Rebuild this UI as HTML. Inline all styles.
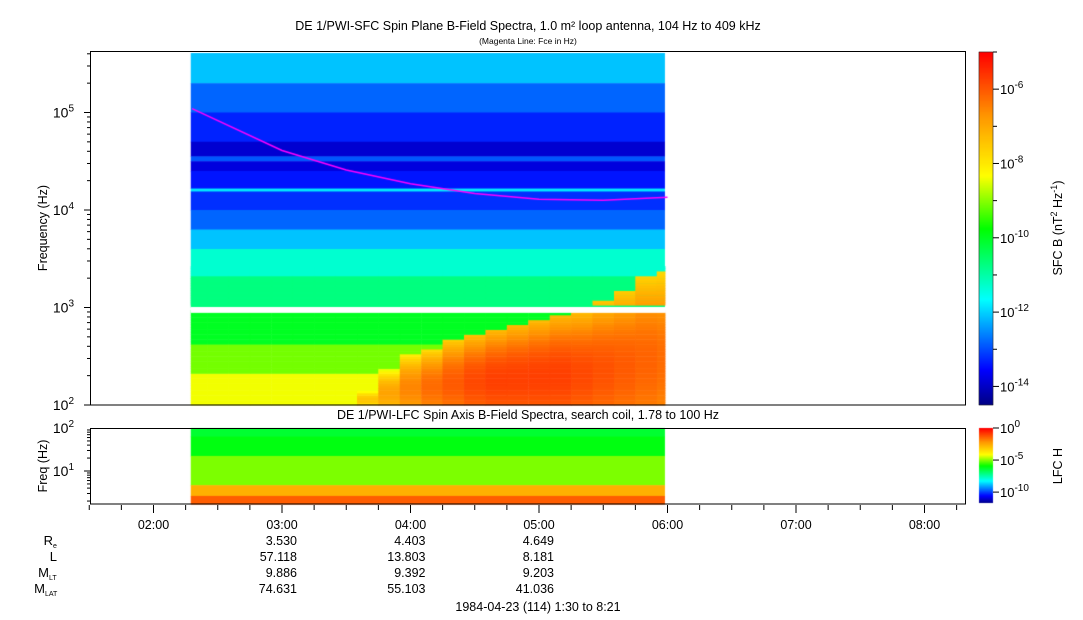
<!DOCTYPE html>
<html><head><meta charset="utf-8"><style>
body{margin:0;background:#fff;width:1083px;height:620px;overflow:hidden;font-family:"Liberation Sans",sans-serif;}
#wrap{position:relative;width:1083px;height:620px;}
canvas{position:absolute;left:0;top:0;}
svg{position:absolute;left:0;top:0;}
</style></head><body>
<div id="wrap">
<canvas id="cv" width="1083" height="620"></canvas>
<svg id="sv" width="1083" height="620" font-family="Liberation Sans, sans-serif"></svg>
</div>
<script>
// ---- data ----
const topBandEdges = [5.61,5.3,5.0,4.7,4.55,4.5,4.4,4.22,4.19,4.0,3.8,3.6,3.3,3.0];
const topBandValues = [-12.1,-12.8,-13.3,-13.9,-12.9,-13.8,-13.4,-11.8,-13.2,-12.8,-12.1,-11.3,-10.7];
const lowBandEdges = [2.95,2.6,2.3,2.0];
const lowBandValues = [-10.0,-9.1,-8.4];
const colTimes = [2.333,2.5,2.667,2.833,3.0,3.167,3.333,3.5,3.667,3.833,4.0,4.167,4.333,4.5,4.667,4.833,5.0,5.167,5.333,5.5,5.667,5.833,6.0];
const colCutoff = [0,0,0,0,0,0,0,0,2.15,2.35,2.5,2.55,2.65,2.7,2.75,2.8,2.85,2.9,2.95,3.05,3.15,3.3,3.35];
const colIntensity = [0,0,0,0,0,0,0,0,-7.2,-6.7,-6.3,-6.0,-5.8,-5.6,-5.5,-5.5,-5.5,-5.5,-5.6,-5.7,-5.8,-5.9,-6.0];
const fceTimes = [2.3,3.0,3.5,4.0,4.5,5.0,5.5,6.0];
const fceLogF = [5.04,4.61,4.41,4.27,4.17,4.11,4.10,4.13];
const lfcEdges = [2.0,1.8,1.35,0.67,0.42,0.23];
const lfcValues = [-6.3,-6.0,-5.0,-2.6,-1.3];
const timeTicks = ["02:00","03:00","04:00","05:00","06:00","07:00","08:00"];
const ephemLabels = ["R","L","M","M"];
const ephemRe = ["3.530","4.403","4.649"];
const ephemL = ["57.118","13.803","8.181"];
const ephemMLT = ["9.886","9.392","9.203"];
const ephemMLAT = ["74.631","55.103","41.036"];

// ---- axes ----
const TT=3.0,TX=282,PPH=128.5;
const xT=t=>TX+(t-TT)*PPH;
const yTop=lf=>405-(lf-2)*97.5;
const yLow=lf=>428+(2-lf)*43;
const tStart=2.29,tEnd=5.98;

function jet(v,lo,hi){
  let p=(v-lo)/(hi-lo);p=Math.max(0,Math.min(1,p));
  const stops=[[0,0,0,130],[0.1,0,0,255],[0.3,0,255,255],[0.5,0,255,0],[0.65,255,255,0],[0.82,255,150,0],[1,255,0,0]];
  for(let i=1;i<stops.length;i++){if(p<=stops[i][0]){const a=stops[i-1],b=stops[i],f=(p-a[0])/(b[0]-a[0]);
    return `rgb(${Math.round(a[1]+(b[1]-a[1])*f)},${Math.round(a[2]+(b[2]-a[2])*f)},${Math.round(a[3]+(b[3]-a[3])*f)})`;}}
  return 'rgb(255,0,0)';
}
const SLO=-14.5,SHI=-5.0,LLO=-11.7,LHI=0;
const cv=document.getElementById('cv');const ctx=cv.getContext('2d');
ctx.fillStyle='#fff';ctx.fillRect(0,0,1083,620);
for(let i=0;i<topBandValues.length;i++){
  const ya=yTop(topBandEdges[i]),yb=yTop(topBandEdges[i+1]);
  ctx.fillStyle=jet(topBandValues[i],SLO,SHI);
  ctx.fillRect(xT(tStart),Math.max(51,ya),xT(tEnd)-xT(tStart),yb-Math.max(51,ya)+0.5);
}
for(let c=0;c<colTimes.length;c++){
  const ta=Math.max(tStart,colTimes[c]-0.0833),tb=Math.min(tEnd,colTimes[c]+0.0833);
  const xa=xT(ta),xb=xT(tb);
  for(let lf=2.0;lf<3.4;lf+=0.025){
    let base;
    if(lf<2.95){let k=0;for(let i=0;i<lowBandValues.length;i++){if(lf<=lowBandEdges[i]&&lf>=lowBandEdges[i+1])k=i;}base=lowBandValues[k];}
    else if(lf<3.0){continue;}
    else base=(lf<3.3)?topBandValues[topBandValues.length-1]:topBandValues[topBandValues.length-2];
    let v=base;
    if(colCutoff[c]>0&&lf<colCutoff[c]){
      const f=(lf-2)/(colCutoff[c]-2);
      v=Math.max(base,colIntensity[c]-0.5+0.5*Math.sin(f*3)-f*f*1.3);
    }
    ctx.fillStyle=jet(v,SLO,SHI);
    ctx.fillRect(xa,yTop(lf+0.025),xb-xa+0.5,yTop(lf)-yTop(lf+0.025)+0.5);
  }
}
ctx.fillStyle='#fff';ctx.fillRect(xT(tStart),yTop(3.0)-0.5,xT(tEnd)-xT(tStart)+1,yTop(2.95)-yTop(3.0)+1);
ctx.strokeStyle='#ff00ff';ctx.lineWidth=1.5;ctx.beginPath();
fceTimes.forEach((t,i)=>{const x=xT(t),y=yTop(fceLogF[i]);i?ctx.lineTo(x,y):ctx.moveTo(x,y);});ctx.stroke();
for(let i=0;i<lfcValues.length;i++){
  ctx.fillStyle=jet(lfcValues[i],LLO,LHI);
  ctx.fillRect(xT(tStart),yLow(lfcEdges[i]),xT(tEnd)-xT(tStart),yLow(lfcEdges[i+1])-yLow(lfcEdges[i])+0.5);
}
for(let y=52;y<405;y++){ctx.fillStyle=jet(SHI-(y-52)/(405-52)*(SHI-SLO),SLO,SHI);ctx.fillRect(979,y,14,1);}
for(let y=428;y<503;y++){ctx.fillStyle=jet(LHI-(y-428)/75*(LHI-LLO),LLO,LHI);ctx.fillRect(979,y,14,1);}

// ---- svg overlay ----
const sv=document.getElementById('sv');const NS='http://www.w3.org/2000/svg';
function el(tag,attrs,txt){const e=document.createElementNS(NS,tag);for(const k in attrs)e.setAttribute(k,attrs[k]);if(txt!==undefined)e.innerHTML=txt;sv.appendChild(e);return e;}
let e;
e=el('rect',{x:90.5,y:51.5,width:875,height:353.5,fill:'none',stroke:'#000'});

e=el('rect',{x:90.5,y:428.5,width:875,height:75.5,fill:'none',stroke:'#000'});

for(let d=2;d<=5;d++){for(let m=1;m<10;m++){const lf=d+Math.log10(m);if(lf>5.61)break;const y=yTop(lf);
  e=el('line',{x1:90,x2:m==1?84:87,y1:y,y2:y,stroke:'#000'});}
  e=el('text',{x:74,y:yTop(d)+5,'font-size':14,'text-anchor':'end'},`10<tspan dy="-6" font-size="10">${d}</tspan>`);
  }
for(let d=0;d<=1;d++){for(let m=1;m<10;m++){const lf=d+Math.log10(m);if(lf<0.23)continue;const y=yLow(lf);
  e=el('line',{x1:90,x2:m==1?84:87,y1:y,y2:y,stroke:'#000'});}}
[1,2].forEach(d=>{e=el('text',{x:74,y:yLow(d)+5,'font-size':14,'text-anchor':'end'},`10<tspan dy="-6" font-size="10">${d}</tspan>`);
  });
for(let t=1.5;t<=8.35;t+=0.25){const x=xT(t);const major=Math.abs(t-Math.round(t))<0.01;
  e=el('line',{x1:x,x2:x,y1:505,y2:major?513:510,stroke:'#000'});}
timeTicks.forEach((s,i)=>{e=el('text',{x:xT(2+i),y:529,'font-size':12.5,'text-anchor':'middle'},s);
  });
const subs=['e','','LT','LAT'];
ephemLabels.forEach((s,i)=>{e=el('text',{x:i==1?57:57-(subs[i].length?subs[i].length*4:0),y:545+i*16,'font-size':13,'text-anchor':'end'},s);
  
  if(subs[i]){e=el('text',{x:(i==1?57:57-subs[i].length*4),y:548+i*16,'font-size':7},subs[i]);}});
[ephemRe,ephemL,ephemMLT,ephemMLAT].forEach((arr,r)=>arr.forEach((s,i)=>{
  e=el('text',{x:xT(3+i)+15,y:545+r*16,'font-size':12.5,'text-anchor':'end'},s);
  }));
e=el('text',{x:528,y:30,'font-size':12.5,'text-anchor':'middle'},'DE 1/PWI-SFC  Spin Plane B-Field Spectra, 1.0 m² loop antenna, 104 Hz to 409 kHz');

e=el('text',{x:528,y:44,'font-size':8.5,'text-anchor':'middle'},'(Magenta Line: Fce in Hz)');

e=el('text',{x:528,y:419,'font-size':12.5,'text-anchor':'middle'},'DE 1/PWI-LFC  Spin Axis B-Field Spectra, search coil, 1.78 to 100 Hz');

e=el('text',{x:538,y:611,'font-size':12.5,'text-anchor':'middle'},'1984-04-23 (114) 1:30 to 8:21');

e=el('text',{x:0,y:0,'font-size':12.5,'text-anchor':'middle',transform:'translate(47,228) rotate(-90)'},'Frequency (Hz)');

e=el('text',{x:0,y:0,'font-size':12.5,'text-anchor':'middle',transform:'translate(47,466) rotate(-90)'},'Freq (Hz)');

e=el('rect',{x:979,y:52,width:14,height:353,fill:'none',stroke:'#000','stroke-width':0.5});
for(let d=-14;d<=-5;d++){const y=52+(SHI-d)/(SHI-SLO)*353;e=el('line',{x1:993,x2:d%2==0?999:997,y1:y,y2:y,stroke:'#000'});
  if(d%2==0){e=el('text',{x:1000,y:y+5,'font-size':13},`10<tspan dy="-6" font-size="10">${d}</tspan>`);}}
[0,-5,-10].forEach(d=>{const y=428+(LHI-d)/(LHI-LLO)*75;e=el('line',{x1:993,x2:999,y1:y,y2:y,stroke:'#000'});
  e=el('text',{x:1000,y:y+5,'font-size':13},`10<tspan dy="-6" font-size="10">${d}</tspan>`);});
e=el('text',{x:0,y:0,'font-size':12.5,'text-anchor':'middle',transform:'translate(1062,228) rotate(-90)'},'SFC B (nT<tspan dy="-5" font-size="9">2</tspan><tspan dy="5"> Hz</tspan><tspan dy="-5" font-size="9">-1</tspan><tspan dy="5">)</tspan>');

e=el('text',{x:0,y:0,'font-size':12.5,'text-anchor':'middle',transform:'translate(1062,466) rotate(-90)'},'LFC H');

</script>
</body></html>
